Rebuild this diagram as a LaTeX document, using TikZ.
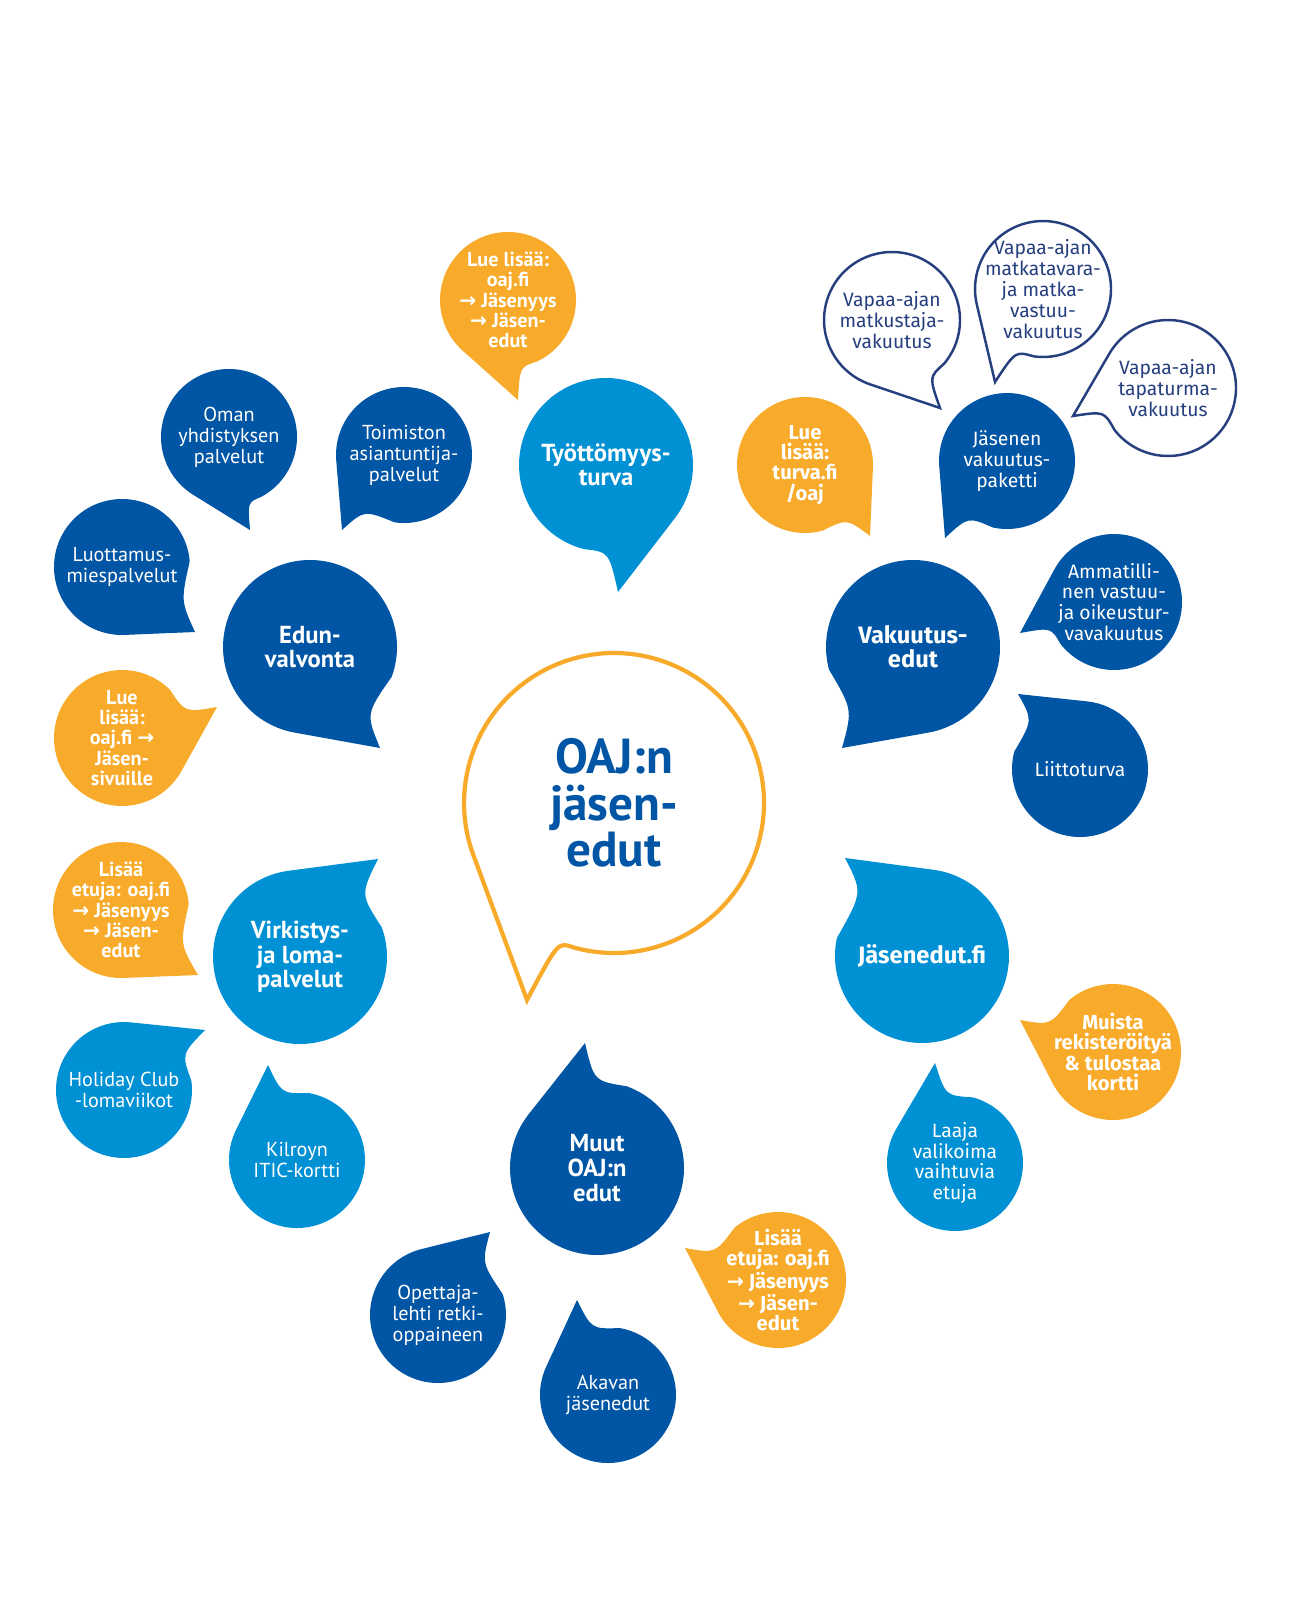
\documentclass[tikz,border=0pt]{standalone}
\usepackage{fontspec}
\setmainfont{Fira Sans}
\newfontfamily\narrowfont{PT Sans}
\newfontfamily\symfont{DejaVu Sans}
\usetikzlibrary{backgrounds}

\definecolor{oajdark}{HTML}{0055A4}
\definecolor{oajlight}{HTML}{0090D4}
\definecolor{oajorange}{HTML}{F8AA2A}
\definecolor{oajnavy}{HTML}{263F7E}

\newcommand{\toarrow}{{\symfont →}}
% body of a speech bubble: arc from b round to a, then tail to the tip
\newcommand{\speech}[8][]{%
  \path[#1] (#2.#7) arc[start angle=#7, end angle=#3+360, radius=#8]
    .. controls (#4) .. (#5) .. controls (#6) .. (#2.#7) -- cycle;}

\begin{document}
\begin{tikzpicture}[x=0.02cm, y=-0.02cm,
    base/.style={circle, inner sep=-8pt, outer sep=0pt, align=center, text=white},
    sm/.style={base, minimum size=2.72cm, font=\narrowfont\fontsize{11.5}{11.9}\selectfont},
    smw/.style={base, minimum size=2.72cm, font=\fontsize{11}{11.9}\selectfont},
    info/.style={base, minimum size=2.72cm, font=\narrowfont\bfseries\fontsize{11.5}{11.5}\selectfont},
    infow/.style={base, minimum size=2.72cm, font=\bfseries\fontsize{11.5}{11.6}\selectfont},
    lg/.style={base, minimum size=3.48cm, font=\narrowfont\bfseries\fontsize{14}{14}\selectfont},
    lgw/.style={base, minimum size=3.48cm, font=\bfseries\fontsize{13.5}{13.8}\selectfont},
    ring/.style={smw, text=oajnavy},
    hub/.style={base, minimum size=6cm, text=oajdark, font=\narrowfont\bfseries\fontsize{28}{26.6}\selectfont},
    dk/.style={fill=oajdark}, lt/.style={fill=oajlight}, og/.style={fill=oajorange},
    outline/.style={fill=white, draw=oajnavy, line width=1.4pt},
    mainring/.style={fill=white, draw=oajorange, line width=2.4pt}]
  \useasboundingbox (0,0) rectangle (1313,1598);

  % keskus
  \node[hub] (centre) at (614,803) {OAJ:n\\jäsen-\\edut};

  % Työttömyysturva
  \node[info] (lue1) at (508,300) {Lue lisää:\\oaj.fi\\\toarrow{} Jäsenyys\\\toarrow{} Jäsen-\\edut};
  \node[lg] (tyot) at (606,465) {Työttömyys-\\turva};

  % Edunvalvonta
  \node[sm] (oman) at (229,437) {Oman\\yhdistyksen\\palvelut};
  \node[sm] (toim) at (404,455) {Toimiston\\asiantuntija-\\palvelut};
  \node[sm] (luot) at (122,567) {Luottamus-\\miespalvelut};
  \node[lg] (edun) at (310,647) {Edun-\\valvonta};
  \node[info] (lue2) at (122,738) {Lue\\lisää:\\oaj.fi \toarrow\\Jäsen-\\sivuille};

  % Vakuutusedut
  \node[ring] (vmatk) at (892,320) {Vapaa-ajan\\matkustaja-\\vakuutus};
  \node[ring] (vmatkat) at (1043,289) {Vapaa-ajan\\matkatavara-\\ja matka-\\vastuu-\\vakuutus};
  \node[ring] (vtapat) at (1168,388) {Vapaa-ajan\\tapaturma-\\vakuutus};
  \node[infow] (lue3) at (805,465) {Lue\\lisää:\\turva.fi\\/oaj};
  \node[smw] (jvak) at (1007,461) {Jäsenen\\vakuutus-\\paketti};
  \node[lgw] (vaked) at (913,647) {Vakuutus-\\edut};
  \node[smw] (ammat) at (1114,602) {Ammatilli-\\nen vastuu-\\ja oikeustur-\\vavakuutus};
  \node[smw] (liitto) at (1080,769) {Liittoturva};

  % Virkistys- ja lomapalvelut
  \node[info] (lisa1) at (121,910) {Lisää\\etuja: oaj.fi\\\toarrow{} Jäsenyys\\\toarrow{} Jäsen-\\edut};
  \node[lg] (virk) at (300,957) {Virkistys-\\ja loma-\\palvelut};
  \node[sm] (holi) at (124,1090) {Holiday Club\\-lomaviikot};
  \node[sm] (kilr) at (297,1160) {Kilroyn\\ITIC-kortti};

  % Jäsenedut.fi
  \node[lgw] (jased) at (922,956) {Jäsenedut.fi};
  \node[infow] (muista) at (1113,1052) {Muista\\rekisteröityä\\\& tulostaa\\kortti};
  \node[smw] (laaja) at (955,1163) {Laaja\\valikoima\\vaihtuvia\\etuja};

  % Muut OAJ:n edut
  \node[lg] (muut) at (597,1168) {Muut\\OAJ:n\\edut};
  \node[infow] (lisa2) at (778,1280) {Lisää\\etuja: oaj.fi\\\toarrow{} Jäsenyys\\\toarrow{} Jäsen-\\edut};
  \node[sm] (opett) at (438,1315) {Opettaja-\\lehti retki-\\oppaineen};
  \node[sm] (akav) at (608,1395) {Akavan\\jäsenedut};

  % kärjet
  \coordinate (t-centre) at (527,1000);
  \coordinate (t-lue1) at (518,400);
  \coordinate (t-tyot) at (618,592);
  \coordinate (t-oman) at (250,530);
  \coordinate (t-toim) at (342,530);
  \coordinate (t-luot) at (195,632);
  \coordinate (t-edun) at (380,748);
  \coordinate (t-lue2) at (217,707);
  \coordinate (t-vmatk) at (940,408);
  \coordinate (t-vmatkat) at (995,382);
  \coordinate (t-vtapat) at (1073,416);
  \coordinate (t-lue3) at (870,536);
  \coordinate (t-jvak) at (945,538);
  \coordinate (t-vaked) at (842,748);
  \coordinate (t-ammat) at (1020,633);
  \coordinate (t-liitto) at (1018,694);
  \coordinate (t-lisa1) at (198,975);
  \coordinate (t-virk) at (378,859);
  \coordinate (t-holi) at (205,1030);
  \coordinate (t-kilr) at (268,1065);
  \coordinate (t-jased) at (845,858);
  \coordinate (t-muista) at (1020,1020);
  \coordinate (t-laaja) at (935,1063);
  \coordinate (t-muut) at (585,1043);
  \coordinate (t-lisa2) at (685,1248);
  \coordinate (t-opett) at (490,1232);
  \coordinate (t-akav) at (577,1300);

  % kuplat taustalle
  \begin{pgfonlayer}{background}
    \speech[mainring]{centre}{200}{centre.200}{t-centre}{centre.248}{254}{3cm}
    \speech[og]{lue1}{228}{lue1.228}{t-lue1}{lue1.280}{295}{1.36cm}
    \speech[lt]{tyot}{255}{tyot.272}{t-tyot}{tyot.322}{322}{1.74cm}
    \speech[dk]{oman}{238}{oman.238}{t-oman}{oman.286}{298}{1.36cm}
    \speech[dk]{toim}{185}{toim.185}{t-toim}{toim.234}{262}{1.36cm}
    \speech[dk]{luot}{272}{luot.272}{t-luot}{luot.330}{365}{1.36cm}
    \speech[dk]{edun}{260}{edun.260}{t-edun}{edun.310}{340}{1.74cm}
    \speech[og]{lue2}{-29}{lue2.-29}{t-lue2}{lue2.22}{45}{1.36cm}
    \speech[outline]{vmatk}{251}{vmatk.251}{t-vmatk}{vmatk.303}{320}{1.36cm}
    \speech[outline]{vmatkat}{193}{vmatkat.193}{t-vmatkat}{vmatkat.246}{262}{1.36cm}
    \speech[outline]{vtapat}{150}{vtapat.150}{t-vtapat}{vtapat.200}{218}{1.36cm}
    \speech[og]{lue3}{285}{lue3.308}{t-lue3}{lue3.358}{358}{1.36cm}
    \speech[dk]{jvak}{185}{jvak.185}{t-jvak}{jvak.235}{258}{1.36cm}
    \speech[dk]{vaked}{195}{vaked.226}{t-vaked}{vaked.280}{280}{1.74cm}
    \speech[dk]{ammat}{152}{ammat.152}{t-ammat}{ammat.202}{218}{1.36cm}
    \speech[dk]{liitto}{84}{liitto.84}{t-liitto}{liitto.134}{165}{1.36cm}
    \speech[og]{lisa1}{272}{lisa1.272}{t-lisa1}{lisa1.330}{365}{1.36cm}
    \speech[lt]{virk}{20}{virk.46}{t-virk}{virk.98}{98}{1.74cm}
    \speech[lt]{holi}{8}{holi.32}{t-holi}{holi.84}{84}{1.36cm}
    \speech[lt]{kilr}{80}{kilr.103}{t-kilr}{kilr.154}{154}{1.36cm}
    \speech[lt]{jased}{83}{jased.83}{t-jased}{jased.133}{168}{1.74cm}
    \speech[og]{muista}{130}{muista.157}{t-muista}{muista.207}{207}{1.36cm}
    \speech[lt]{laaja}{75}{laaja.98}{t-laaja}{laaja.150}{150}{1.36cm}
    \speech[dk]{muut}{70}{muut.92}{t-muut}{muut.142}{142}{1.74cm}
    \speech[og]{lisa2}{130}{lisa2.157}{t-lisa2}{lisa2.207}{207}{1.36cm}
    \speech[dk]{opett}{18}{opett.50}{t-opett}{opett.104}{104}{1.36cm}
    \speech[dk]{akav}{80}{akav.104}{t-akav}{akav.155}{155}{1.36cm}
  \end{pgfonlayer}
\end{tikzpicture}
\end{document}
